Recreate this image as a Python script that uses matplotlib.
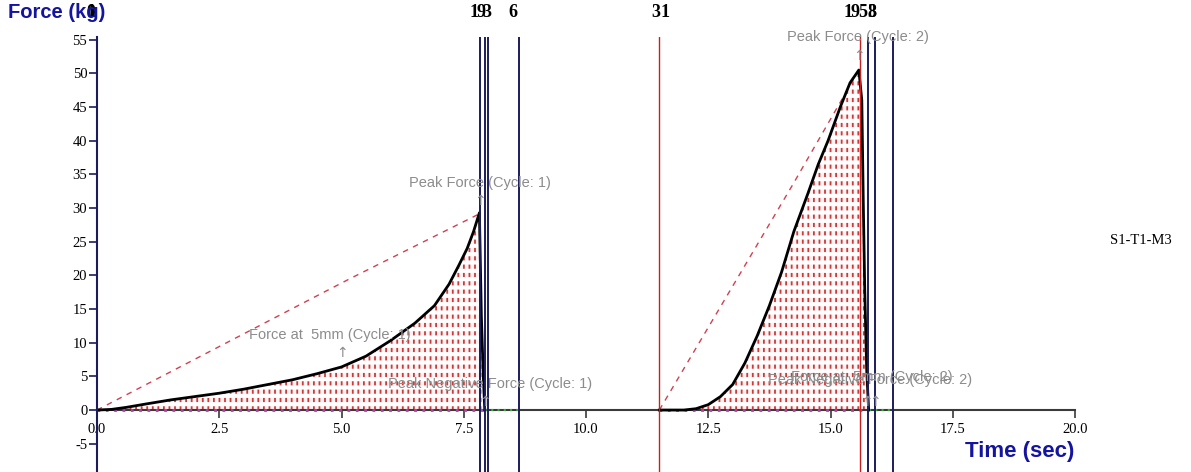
import numpy as np
import matplotlib.pyplot as plt
from matplotlib import transforms

# ---- dados ----
# ciclo 1
tempo_c1 = [0.0, 0.3, 0.6, 1.0, 1.5, 2.0, 2.5, 3.0, 3.5, 4.0, 4.5, 5.0, 5.5, 6.0, 6.5,
            6.9, 7.2, 7.4, 7.57, 7.7, 7.82, 7.86, 7.9, 7.93]
forca_c1 = [0.0, 0.1, 0.4, 0.9, 1.5, 2.0, 2.5, 3.1, 3.8, 4.5, 5.4, 6.4, 8.0, 10.3, 12.9,
            15.5, 18.7, 21.5, 24.0, 26.5, 29.3, 14.0, 5.0, 0.0]
# ciclo 2
tempo_c2 = [11.5, 12.0, 12.25, 12.5, 12.75, 13.0, 13.25, 13.5, 13.75, 14.0, 14.25, 14.54,
            14.75, 14.95, 15.2, 15.4, 15.58, 15.64, 15.67, 15.7, 15.74, 15.78]
forca_c2 = [0.0, 0.0, 0.2, 0.8, 2.0, 3.8, 7.0, 11.0, 15.5, 20.5, 26.5, 32.2,
            36.5, 40.0, 45.0, 48.6, 50.5, 46.0, 31.0, 18.0, 6.0, 0.0]

# linhas tracejadas (distancia)
tempo_trac_c1 = [0.0, 5.17, 7.78]
forca_trac_c1 = [0.0, 19.5, 29.0]
tempo_trac_c2 = [11.5, 14.23, 15.58]
forca_trac_c2 = [0.0, 33.5, 50.5]

# segmentos na linha de base
base_roxa = [(0.0, 7.93), (11.5, 15.7)]
base_verde = [(7.93, 8.63), (15.78, 16.28)]

# marcadores verticais
linhas_azuis = [7.83, 7.93, 8.0, 8.63, 15.77, 15.91, 16.28]
linhas_vermelhas = [11.49, 15.6]

# rotulos no topo (posicao x, texto)
rotulos_topo = [(-0.12, '0'), (-0.12, '1'),
                (7.72, '1'), (7.85, '9'), (7.98, '3'), (8.5, '6'),
                (11.42, '3'), (11.62, '1'),
                (15.35, '1'), (15.5, '9'), (15.65, '5'), (15.85, '8'), (15.85, '3')]

# anotacoes (x, y, texto, x seta, y seta)
anotacoes = [
    (7.83, 33.7, 'Peak Force (Cycle: 1)', 7.83, 31.0),
    (4.76, 11.1, 'Force at  5mm (Cycle: 1)', 5.0, 8.4),
    (8.04, 3.9, 'Peak Negative Force (Cycle: 1)', 7.93, 1.2),
    (15.56, 55.4, 'Peak Force (Cycle: 2)', 15.58, 52.6),
    (15.8, 4.5, 'Peak Negative Force (Cycle: 2)', 15.9, 1.2),
    (15.85, 4.9, 'Force at  5mm (Cycle: 2)', 15.75, 1.2),
]

xticks = [0.0, 2.5, 5.0, 7.5, 10.0, 12.5, 15.0, 17.5, 20.0]
yticks = [-5, 0, 5, 10, 15, 20, 25, 30, 35, 40, 45, 50, 55]

# ---- figura ----
fig = plt.figure(figsize=(11.91, 4.72), dpi=100)
ax = fig.add_axes([97 / 1191, 0, (1075 - 97) / 1191, (472 - 37) / 472])
ax.set_xlim(0, 20)
ax.set_ylim(-9.2, 55.4)

# preenchimento hachurado (tracos verticais vermelhos interrompidos)
for t, f in [(tempo_c1, forca_c1), (tempo_c2, forca_c2)]:
    with plt.rc_context({'hatch.linewidth': 1.3}):
        ax.fill_between(t, 0, f, facecolor='#fdf2f2', edgecolor='#cc3b3b', hatch='|||', linewidth=0, zorder=1)
    with plt.rc_context({'hatch.linewidth': 3.0}):
        ax.fill_between(t, 0, f, facecolor='none', edgecolor='white', hatch='--', linewidth=0, zorder=1.1)

# tracejado
ax.plot(tempo_trac_c1, forca_trac_c1, color='#d04050', linestyle=(0, (4, 4)), linewidth=1.0, zorder=2)
ax.plot(tempo_trac_c2, forca_trac_c2, color='#d04050', linestyle=(0, (4, 4)), linewidth=1.0, zorder=2)

# linha de base
for a, b in base_roxa:
    ax.plot([a, b], [0, 0], color='#b040b0', linewidth=2.0, linestyle=(0, (1, 2)), zorder=3)
for a, b in base_verde:
    ax.plot([a, b], [0, 0], color='#30b030', linewidth=1.5, linestyle=(0, (1, 2)), zorder=3)

# curvas de forca
ax.plot(tempo_c1, forca_c1, color='black', linewidth=2.0, zorder=4)
ax.plot(tempo_c2, forca_c2, color='black', linewidth=2.0, zorder=4)

# linhas verticais
for x in linhas_azuis:
    ax.axvline(x, color='#1c1c5c', linewidth=1.4, zorder=5)
for x in linhas_vermelhas:
    ax.axvline(x, color='#c82020', linewidth=1.0, zorder=5)

# anotacoes
for x, y, txt, xs, ys in anotacoes:
    ax.text(x, y, txt, ha='center', va='center', fontsize=10.5, color='#8c8c8c',
            family='Liberation Sans', zorder=6, clip_on=False)
    ax.text(xs, ys, '\u2191', ha='center', va='center', fontsize=10, color='#8c8c8c', zorder=6, clip_on=False)

# eixos
for lado in ['top', 'right']:
    ax.spines[lado].set_visible(False)
ax.spines['bottom'].set_position(('data', 0))
ax.spines['bottom'].set_color('#3a3a3a')
ax.spines['bottom'].set_linewidth(1.5)
ax.spines['left'].set_color('#1c1c5c')
ax.spines['left'].set_linewidth(1.5)
ax.spines['left'].set_zorder(7)

ax.set_xticks(xticks)
ax.set_xticklabels([f'{v:.1f}' for v in xticks], family='Liberation Serif', fontsize=10.5)
ax.set_yticks(yticks)
ax.set_yticklabels([str(v) for v in yticks], family='Liberation Serif', fontsize=10.5)
ax.tick_params(axis='x', direction='out', length=6, width=1.2, color='#3a3a3a', pad=3)
ax.tick_params(axis='y', direction='out', length=6, width=1.2, color='#1c1c5c', pad=1)

# rotulos do topo
trans = transforms.blended_transform_factory(ax.transData, ax.transAxes)
for x, txt in rotulos_topo:
    ax.text(x, 1.057, txt, transform=trans, ha='center', va='center', fontsize=13,
            fontweight='bold', family='Liberation Serif', color='black', clip_on=False)

fig.text(8 / 1191, 1 - 12 / 472, 'Force (kg)', ha='left', va='center', fontsize=14.5,
         fontweight='bold', color='#1414a0', family='Liberation Sans', zorder=0)
fig.text(1074 / 1191, 1 - 452 / 472, 'Time (sec)', ha='right', va='center', fontsize=16,
         fontweight='bold', color='#1414a0', family='Liberation Sans')
fig.text(1110 / 1191, 1 - 240 / 472, 'S1-T1-M3', ha='left', va='center', fontsize=10.5,
         family='Liberation Serif', color='black')

fig.savefig('out.png', dpi=100)
